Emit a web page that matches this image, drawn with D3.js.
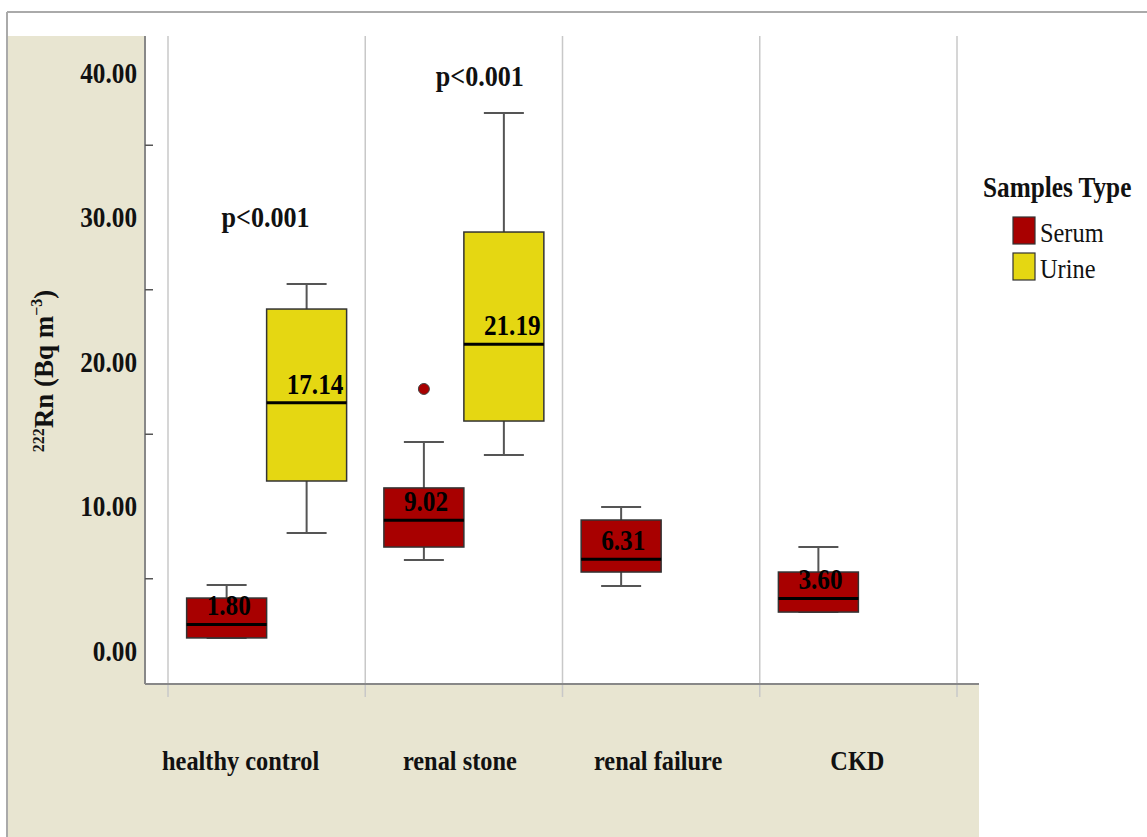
<!DOCTYPE html>
<html>
<head>
<meta charset="utf-8">
<script src="https://cdn.jsdelivr.net/npm/d3@7"></script>
<style>
  body{margin:0;background:#fff}
  text{font-family:"Liberation Serif","Times New Roman",serif}
</style>
</head>
<body>
<svg id="chart"></svg>
<script>
// data (box plot of 222Rn in serum / urine)
const categories = ["healthy control","renal stone","renal failure","CKD"];
const sampleTypes = ["Serum","Urine"];
// serum: min, q1, median, q3, max per category
const serumMin    = [0.87, 6.26, 4.46, 2.66];
const serumQ1     = [0.87, 7.16, 5.43, 2.66];
const serumMedian = [1.80, 9.02, 6.31, 3.60];
const serumQ3     = [3.63, 11.25, 9.03, 5.43];
const serumMax    = [4.53, 14.43, 9.93, 7.16];
// urine (only the first two groups have urine samples)
const urineMin    = [8.13, 13.53, null, null];
const urineQ1     = [11.73, 15.88, null, null];
const urineMedian = [17.14, 21.19, null, null];
const urineQ3     = [23.63, 28.96, null, null];
const urineMax    = [25.36, 37.2, null, null];
// outliers
const outlierGroup = ["renal stone"];
const outlierType  = ["Serum"];
const outlierValue = [18.1];
// p-value notes
const pGroup = ["healthy control","renal stone"];
const pValue = [29.3, 39.1];
const pText  = ["p<0.001","p<0.001"];
const yTicks = [0,10,20,30,40];
const yMinor = [5,15,25,35];

const width = 1147, height = 837;
const plot = {left:145, right:979, top:36, bottom:684};
const colors = {Serum:"#a80000", Urine:"#e5d712"};
const beige = "#e8e5d1";
const narrow = 0.87; // the original text is a bit condensed

const svg = d3.select('#chart').attr('width',width).attr('height',height);

// place a text at (px,py) squeezed horizontally
function put(sel, px, py){
  sel.attr('x',0).attr('y',0)
    .attr('transform',(d,i)=>`translate(${typeof px==='function'?px(d,i):px},${typeof py==='function'?py(d,i):py}) scale(${narrow},1)`);
  return sel;
}

// frame + background
svg.append('rect').attr('x',8).attr('y',plot.top).attr('width',plot.left-8).attr('height',height-plot.top).attr('fill',beige);
svg.append('rect').attr('x',8).attr('y',plot.bottom).attr('width',plot.right-8).attr('height',height-plot.bottom).attr('fill',beige);
svg.append('line').attr('x1',7).attr('x2',width).attr('y1',12).attr('y2',12).attr('stroke','#aaa').attr('stroke-width',2);
svg.append('line').attr('x1',7).attr('x2',7).attr('y1',12).attr('y2',height).attr('stroke','#aaa').attr('stroke-width',2);

const x = d3.scaleBand().domain(categories).range([168,957]);
const sub = d3.scaleBand().domain(sampleTypes).range([0,x.bandwidth()]).paddingOuter(0.233);
const y = d3.scaleLinear().domain([0,40]).range([650.5,72.5]);

// vertical gridlines on band edges (also the x ticks)
const edges = categories.map(c=>x(c)).concat([x.range()[1]]);
svg.selectAll('.grid').data(edges).join('line').classed('grid',true)
  .attr('x1',d=>d).attr('x2',d=>d).attr('y1',plot.top).attr('y2',plot.bottom+13)
  .attr('stroke','#c8c8c8').attr('stroke-width',1.5);

// axes
svg.append('line').attr('x1',plot.left).attr('x2',plot.left).attr('y1',plot.top).attr('y2',plot.bottom).attr('stroke','#888').attr('stroke-width',2);
svg.append('line').attr('x1',plot.left).attr('x2',plot.right).attr('y1',plot.bottom).attr('y2',plot.bottom).attr('stroke','#888').attr('stroke-width',2);

const yAxis = svg.append('g').attr('transform',`translate(${plot.left},0)`)
  .call(d3.axisLeft(y).tickValues(yTicks).tickSize(0).tickPadding(8).tickFormat(d3.format('.2f')));
yAxis.select('.domain').remove();
yAxis.selectAll('text').attr('font-size',29).attr('font-weight','bold').attr('fill','#111')
  .attr('dy','0.34em').attr('x',0).attr('transform',`translate(-8,0) scale(${narrow},1)`)
  .style('font-family','"Liberation Serif","Times New Roman",serif');

const yMinorAxis = svg.append('g').attr('transform',`translate(${plot.left},0)`)
  .call(d3.axisRight(y).tickValues(yMinor).tickSize(8).tickFormat(''));
yMinorAxis.select('.domain').remove();
yMinorAxis.selectAll('line').attr('stroke','#555').attr('stroke-width',1.5);

// y label
const ylab = svg.append('text').attr('transform','translate(53,371) rotate(-90)')
  .attr('text-anchor','middle').attr('font-size',27).attr('font-weight','bold').attr('fill','#111');
ylab.append('tspan').attr('font-size',16).attr('dy',-9).text('222');
ylab.append('tspan').attr('dy',9).text('Rn (Bq m');
ylab.append('tspan').attr('font-size',16).attr('dy',-11).text('\u22123');
ylab.append('tspan').attr('dy',11).text(')');

// category labels
const labelNudge = [-26,-4,-3,-1];
put(svg.selectAll('.cat').data(categories).join('text').classed('cat',true),
    (d,i)=>x(d)+x.bandwidth()/2+labelNudge[i], 770)
  .attr('text-anchor','middle').attr('font-size',28).attr('font-weight','bold').attr('fill','#111')
  .text(d=>d);

// boxes
const boxes = [];
categories.forEach((c,i)=>{
  boxes.push({cat:c,type:'Serum',min:serumMin[i],q1:serumQ1[i],med:serumMedian[i],q3:serumQ3[i],max:serumMax[i]});
  if(urineMedian[i]!=null)
    boxes.push({cat:c,type:'Urine',min:urineMin[i],q1:urineQ1[i],med:urineMedian[i],q3:urineQ3[i],max:urineMax[i]});
});
const bx = d=>x(d.cat)+sub(d.type);
const bw = sub.bandwidth();
const g = svg.selectAll('.box').data(boxes).join('g').classed('box',true);
// whiskers
g.append('line').attr('x1',d=>bx(d)+bw/2).attr('x2',d=>bx(d)+bw/2)
  .attr('y1',d=>y(d.max)).attr('y2',d=>y(d.min)).attr('stroke','#555').attr('stroke-width',2);
g.append('line').attr('x1',d=>bx(d)+bw/2-20).attr('x2',d=>bx(d)+bw/2+20)
  .attr('y1',d=>y(d.max)).attr('y2',d=>y(d.max)).attr('stroke','#555').attr('stroke-width',2);
g.append('line').attr('x1',d=>bx(d)+bw/2-20).attr('x2',d=>bx(d)+bw/2+20)
  .attr('y1',d=>y(d.min)).attr('y2',d=>y(d.min)).attr('stroke','#555').attr('stroke-width',2);
g.append('rect').attr('x',bx).attr('width',bw)
  .attr('y',d=>y(d.q3)).attr('height',d=>y(d.q1)-y(d.q3))
  .attr('fill',d=>colors[d.type]).attr('stroke','#333').attr('stroke-width',1.5);
g.append('line').attr('x1',bx).attr('x2',d=>bx(d)+bw)
  .attr('y1',d=>y(d.med)).attr('y2',d=>y(d.med)).attr('stroke','#000').attr('stroke-width',3);
put(g.append('text'), d=>bx(d)+20, d=>y(d.med)-9)
  .attr('font-size',29).attr('font-weight','bold').attr('fill','#000')
  .text(d=>d.med.toFixed(2));

// outliers
svg.selectAll('.outlier').data(outlierValue).join('circle').classed('outlier',true)
  .attr('cx',(d,i)=>x(outlierGroup[i])+sub(outlierType[i])+bw/2).attr('cy',d=>y(d)).attr('r',5.5)
  .attr('fill',(d,i)=>colors[outlierType[i]]).attr('stroke','#444').attr('stroke-width',1);

// p-values
const pNudge = [-1,16];
put(svg.selectAll('.pval').data(pText).join('text').classed('pval',true),
    (d,i)=>x(pGroup[i])+x.bandwidth()/2+pNudge[i], (d,i)=>y(pValue[i]))
  .attr('text-anchor','middle').attr('font-size',30).attr('font-weight','bold').attr('fill','#111')
  .text(d=>d);

// legend
const legend = svg.append('g');
put(legend.append('text'), 983, 197).attr('font-size',29).attr('font-weight','bold').attr('fill','#111').text('Samples Type');
const li = legend.selectAll('.li').data(sampleTypes).join('g').classed('li',true)
  .attr('transform',(d,i)=>`translate(1013,${217+i*36})`);
li.append('rect').attr('width',22).attr('height',27).attr('fill',d=>colors[d]).attr('stroke','#333').attr('stroke-width',1.2);
put(li.append('text'), 27, 25).attr('font-size',28).attr('fill','#111').text(d=>d);
</script>
</body>
</html>
